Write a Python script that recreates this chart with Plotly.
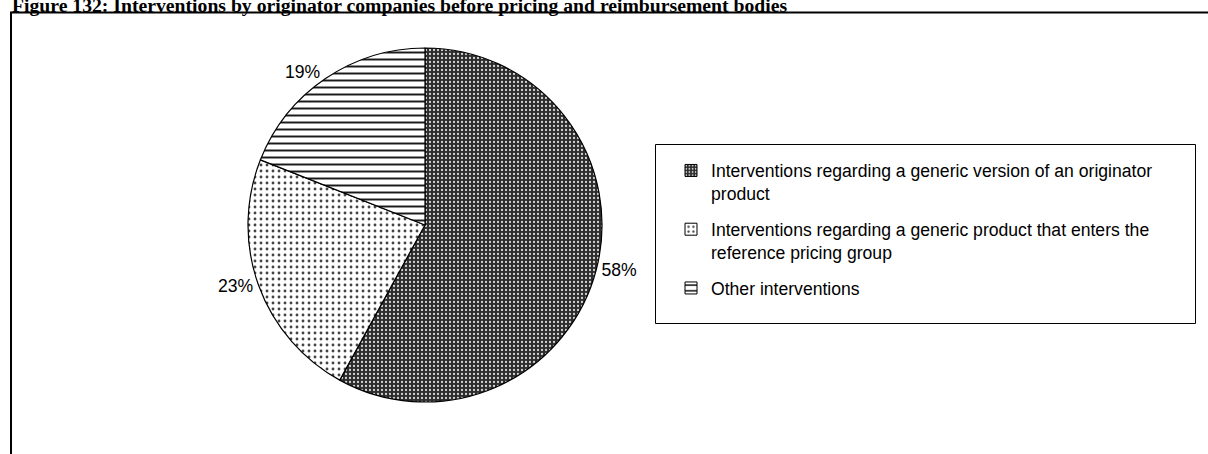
import plotly.graph_objects as go

W, H = 1208, 454

title_text = ("Figure 132: Interventions by originator companies before "
              "pricing and reimbursement bodies")

# Slice categories, each split into the lines shown in the legend
label_lines = [
    ["Interventions regarding a generic version of an originator", "product"],
    ["Interventions regarding a generic product that enters the",
     "reference pricing group"],
    ["Other interventions"],
]
values = [58, 23, 19]

# Fill patterns of the three slices
pattern_shapes = [".", ".", "-"]
pattern_fg = ["#d4d4d4", "#444444", "#1a1a1a"]
pattern_bg = ["#2c2c2c", "#ffffff", "#ffffff"]
pattern_sizes = [4, 6, 7]
pattern_solidity = [0.25, 0.18, 0.28]

TEXT_FONT = "Liberation Sans, Arial, sans-serif"
TITLE_FONT = "Liberation Serif, Times New Roman, serif"
TEXT_SIZE = 17.6


def px_x(x):
    return x / W


def px_y(y):
    return 1 - y / H


fig = go.Figure()

fig.add_trace(
    go.Pie(
        labels=[" ".join(lines) for lines in label_lines],
        values=values,
        sort=False,
        direction="clockwise",
        rotation=0,
        texttemplate="%{value}%",
        textposition="outside",
        textfont=dict(family=TEXT_FONT, size=TEXT_SIZE, color="black"),
        marker=dict(
            line=dict(color="black", width=1.2),
            pattern=dict(
                shape=pattern_shapes,
                fgcolor=pattern_fg,
                bgcolor=pattern_bg,
                size=pattern_sizes,
                solidity=pattern_solidity,
                fillmode="replace",
            ),
        ),
        domain=dict(x=[px_x(248), px_x(602)], y=[px_y(402), px_y(48)]),
        showlegend=False,
        hoverinfo="label+percent",
    )
)

# Legend entries: one group per slice so the entries get a gap between them
for i, lines in enumerate(label_lines):
    fig.add_trace(
        go.Bar(
            x=[None],
            y=[None],
            name="<br>".join(lines),
            legendgroup=f"slice{i}",
            showlegend=True,
            marker=dict(
                line=dict(color="black", width=1),
                pattern=dict(
                    shape=pattern_shapes[i],
                    fgcolor=pattern_fg[i],
                    bgcolor=pattern_bg[i],
                    size=pattern_sizes[i],
                    solidity=pattern_solidity[i],
                    fillmode="replace",
                ),
            ),
            hoverinfo="skip",
        )
    )

fig.update_layout(
    width=W,
    height=H,
    margin=dict(l=0, r=0, t=0, b=0),
    paper_bgcolor="white",
    plot_bgcolor="rgba(0,0,0,0)",
    xaxis=dict(visible=False),
    yaxis=dict(visible=False),
    showlegend=True,
    legend=dict(
        x=px_x(671),
        y=px_y(152.5),
        xanchor="left",
        yanchor="top",
        valign="top",
        traceorder="grouped",
        tracegroupgap=10,
        font=dict(family=TEXT_FONT, size=TEXT_SIZE, color="black"),
        bgcolor="rgba(0,0,0,0)",
        borderwidth=0,
    ),
    annotations=[
        dict(
            text=f"<b>{title_text}</b>",
            x=px_x(10),
            y=px_y(18),
            xref="paper",
            yref="paper",
            xanchor="left",
            yanchor="bottom",
            showarrow=False,
            font=dict(family=TITLE_FONT, size=19.7, color="black"),
        )
    ],
    shapes=[
        # rule under the caption and left edge of the frame
        dict(type="line", xref="paper", yref="paper",
             x0=px_x(10), x1=1, y0=px_y(12.5), y1=px_y(12.5),
             line=dict(color="black", width=2)),
        dict(type="line", xref="paper", yref="paper",
             x0=px_x(11), x1=px_x(11), y0=px_y(12), y1=0,
             line=dict(color="black", width=2)),
        # legend frame
        dict(type="rect", xref="paper", yref="paper",
             x0=px_x(655.5), x1=px_x(1195.5), y0=px_y(144.5), y1=px_y(323.5),
             line=dict(color="black", width=1)),
    ],
)

fig.write_html("out.html")
